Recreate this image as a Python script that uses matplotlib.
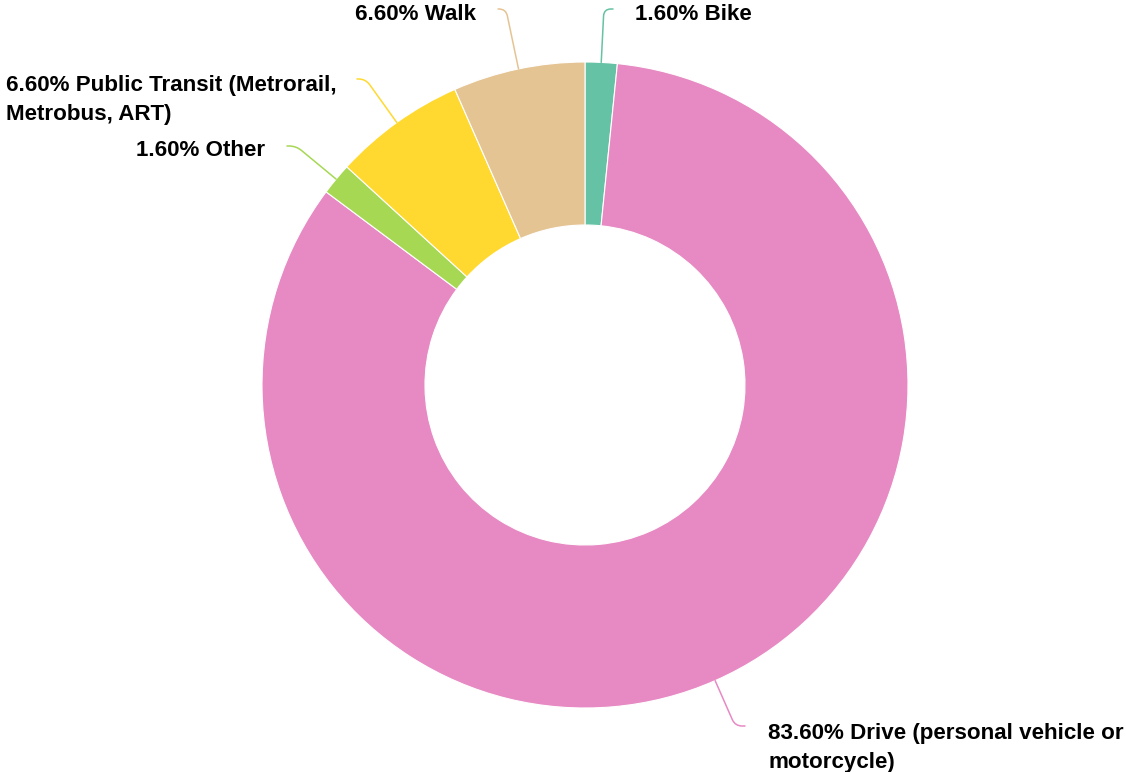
import numpy as np
import matplotlib
matplotlib.use('Agg')
import matplotlib.pyplot as plt

# ---- data ----
categories = ['Bike', 'Drive (personal vehicle or\nmotorcycle)', 'Other',
              'Public Transit (Metrorail,\nMetrobus, ART)', 'Walk']
shares = [1.6, 83.6, 1.6, 6.6, 6.6]
colors = ['#66c2a5', '#e78ac3', '#a6d854', '#ffd92f', '#e5c494']

# ---- layout (pixel coords, image y measured from top) ----
W, H = 1126, 772
CX, CY = 585, 385
R_OUT, R_IN = 323, 160
# leader end points and label anchors
leader_end = [(613, 9), (745, 726), (287, 146), (357, 79), (498, 9)]
label_pos = [(635, 15, 'left'), (768, 748, 'left'), (265, 150, 'right'),
             (337, 100, 'right'), (476, 15, 'right')]

plt.rcParams.update({
    'font.family': ['Liberation Sans', 'DejaVu Sans'],
    'font.weight': 'bold',
})

fig = plt.figure(figsize=(W / 100, H / 100), dpi=100)
ax = fig.add_axes([0, 0, 1, 1])

cy = H - CY
ax.pie(shares, colors=colors, startangle=90, counterclock=False,
       radius=R_OUT, center=(CX, cy), normalize=True,
       wedgeprops=dict(width=R_OUT - R_IN, edgecolor='white', linewidth=0.8))

ax.set_xlim(0, W)
ax.set_ylim(0, H)
ax.set_aspect('equal')
ax.axis('off')

frac = np.array(shares) / np.sum(shares)
start = 90 - 360 * np.concatenate([[0], np.cumsum(frac)[:-1]])
mids = start - 360 * frac / 2

for i, (cat, val) in enumerate(zip(categories, shares)):
    a = np.deg2rad(mids[i])
    ex, ey = CX + R_OUT * np.cos(a), cy + R_OUT * np.sin(a)
    lx, ly = leader_end[i]
    ax.annotate('', xy=(ex, ey), xytext=(lx, H - ly),
                arrowprops=dict(arrowstyle='-', color=colors[i], lw=1.1,
                                shrinkA=0, shrinkB=0,
                                connectionstyle=f'angle,angleA=0,angleB={mids[i]:.2f},rad=7'))
    tx, ty, ha = label_pos[i]
    ax.text(tx, H - ty, f'{val:.2f}% {cat}', ha=ha, va='center',
            multialignment='left', fontsize=16.1, fontweight='bold',
            color='black', linespacing=1.5)

fig.savefig('out.png', dpi=100, facecolor='white')
